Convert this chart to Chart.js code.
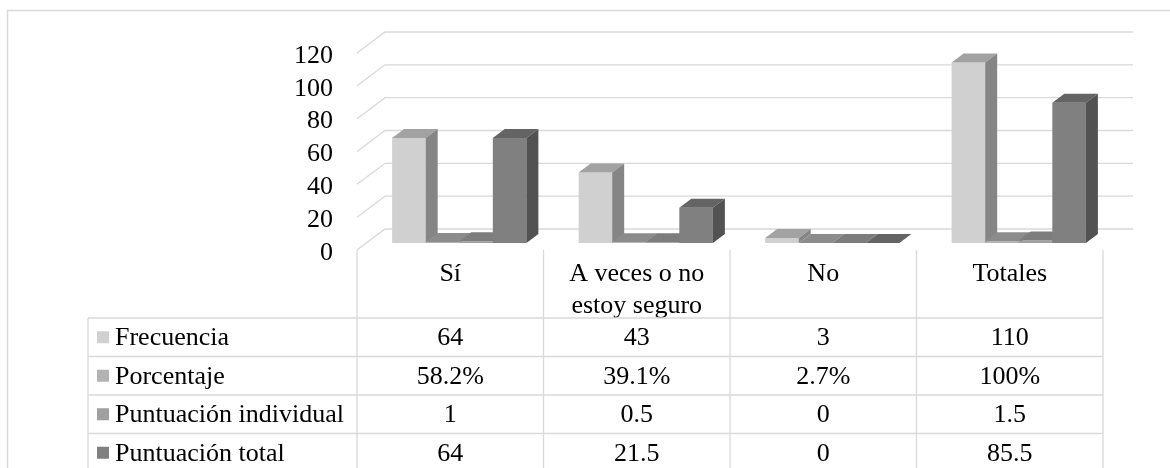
<!DOCTYPE html>
<html>
<head>
<meta charset="utf-8">
<script src="https://cdn.jsdelivr.net/npm/chart.js"></script>
<style>
  html, body { margin: 0; padding: 0; background: #fff; }
  canvas { display: block; }
</style>
</head>
<body>
<canvas id="chart" width="1170" height="468"></canvas>
<script>
// data
const categories = ['Sí', ['A veces o no', 'estoy seguro'], 'No', 'Totales'];
const seriesNames = ['Frecuencia', 'Porcentaje', 'Puntuación individual', 'Puntuación total'];
const frecuencia = [64, 43, 3, 110];
const porcentaje = [0.582, 0.391, 0.027, 1];
const puntIndividual = [1, 0.5, 0, 1.5];
const puntTotal = [64, 21.5, 0, 85.5];
const yTicks = { min: 0, max: 120, step: 20 };
const colors = ['#d0d0d0', '#b3b3b3', '#a0a0a0', '#808080'];

const FONT = '"Liberation Serif", "Times New Roman", serif';
const LINE = '#d9d9d9';
const DX = 12, DY = 9;            // depth of a column
const SHIFT_X = 9, SHIFT_Y = -7;  // columns sit behind the front edge
const WALL_X = 28, WALL_Y = 21;   // depth of floor / side wall
const WALL_RIGHT = 1133;
const TABLE_LEFT = 88, TABLE_TOP = 318, ROW_H = 38.5;

function shade(hex, k) {
  const n = parseInt(hex.slice(1), 16);
  const c = v => Math.round(v * k);
  return `rgb(${c(n >> 16 & 255)},${c(n >> 8 & 255)},${c(n & 255)})`;
}

function poly(ctx, pts) {
  ctx.beginPath();
  ctx.moveTo(pts[0][0], pts[0][1]);
  pts.slice(1).forEach(p => ctx.lineTo(p[0], p[1]));
  ctx.closePath();
  ctx.fill();
}

function cellText(d, v) {
  if (d === 1) return String(+(v * 100).toFixed(1)) + '%';
  return String(v);
}

// 3D walls, columns and the data table under the chart
const chart3d = {
  id: 'chart3d',
  beforeDraw(chart) {
    const ctx = chart.ctx;
    ctx.save();
    ctx.fillStyle = '#fff';
    ctx.fillRect(0, 0, chart.width, chart.height);
    ctx.strokeStyle = LINE;
    ctx.lineWidth = 1.5;
    ctx.strokeRect(7.5, 10.5, chart.width + 20, chart.height + 20);
    ctx.restore();
  },
  beforeDatasetsDraw(chart) {
    const { ctx, chartArea: area, scales: { y } } = chart;
    ctx.save();
    ctx.strokeStyle = LINE;
    ctx.lineWidth = 1.3;
    y.ticks.forEach(t => {
      const py = y.getPixelForValue(t.value);
      ctx.beginPath();
      ctx.moveTo(area.left, py);
      ctx.lineTo(area.left + WALL_X, py - WALL_Y);
      ctx.lineTo(WALL_RIGHT, py - WALL_Y);
      ctx.stroke();
    });

    ctx.translate(SHIFT_X, SHIFT_Y);
    for (let i = 0; i < categories.length; i++) {
      chart.data.datasets.forEach((ds, d) => {
        const bar = chart.getDatasetMeta(d).data[i];
        const { x: cx, y: top, base, width } = bar.getProps(['x', 'y', 'base', 'width'], true);
        const l = cx - width / 2, r = cx + width / 2;
        bar.draw(ctx);
        ctx.fillStyle = shade(ds.backgroundColor, 0.78);
        poly(ctx, [[l, top], [r, top], [r + DX, top - DY], [l + DX, top - DY]]);
        ctx.fillStyle = shade(ds.backgroundColor, 0.64);
        poly(ctx, [[r, top], [r + DX, top - DY], [r + DX, base - DY], [r, base]]);
      });
    }
    ctx.restore();
    return false;
  },
  afterDraw(chart) {
    const { ctx, chartArea: area, scales: { x } } = chart;
    const colW = x.width / categories.length;
    const rows = chart.data.datasets.length;
    const bottom = TABLE_TOP + rows * ROW_H;

    ctx.save();
    ctx.strokeStyle = LINE;
    ctx.lineWidth = 1.3;
    ctx.beginPath();
    for (let r = 0; r <= rows; r++) {
      const py = TABLE_TOP + r * ROW_H;
      ctx.moveTo(TABLE_LEFT, py);
      ctx.lineTo(x.right, py);
    }
    ctx.moveTo(TABLE_LEFT, TABLE_TOP);
    ctx.lineTo(TABLE_LEFT, bottom);
    for (let c = 0; c <= categories.length; c++) {
      const px = x.left + c * colW;
      ctx.moveTo(px, area.bottom);
      ctx.lineTo(px, bottom);
    }
    ctx.stroke();

    ctx.font = '26px ' + FONT;
    ctx.textBaseline = 'middle';
    chart.data.datasets.forEach((ds, d) => {
      const cy = TABLE_TOP + d * ROW_H + ROW_H / 2;
      ctx.fillStyle = ds.backgroundColor;
      ctx.fillRect(97, cy - 6, 12, 12);
      ctx.fillStyle = '#000';
      ctx.textAlign = 'left';
      ctx.fillText(ds.label, 115, cy + 1);
      ctx.textAlign = 'center';
      ds.data.forEach((v, i) => {
        ctx.fillText(cellText(d, v), x.getPixelForValue(i), cy + 1);
      });
    });
    ctx.restore();
  }
};

const series = [frecuencia, porcentaje, puntIndividual, puntTotal];

new Chart(document.getElementById('chart'), {
  type: 'bar',
  data: {
    labels: categories,
    datasets: series.map((values, d) => ({
      label: seriesNames[d],
      data: values,
      backgroundColor: colors[d],
      borderWidth: 0
    }))
  },
  options: {
    responsive: false,
    animation: false,
    devicePixelRatio: 1,
    categoryPercentage: 0.72,
    barPercentage: 1,
    layout: { padding: { top: 53, right: 67, left: 0, bottom: 0 } },
    plugins: {
      legend: { display: false },
      tooltip: { enabled: false }
    },
    scales: {
      x: {
        grid: { display: false, drawTicks: false },
        border: { display: false },
        ticks: {
          color: '#000',
          font: { family: FONT, size: 26 },
          padding: 9,
          maxRotation: 0,
          autoSkip: false
        },
        afterFit(s) { s.height = 218; }
      },
      y: {
        min: yTicks.min,
        max: yTicks.max,
        grid: { display: false, drawTicks: false },
        border: { display: false },
        ticks: {
          stepSize: yTicks.step,
          autoSkip: false,
          color: '#000',
          font: { family: FONT, size: 26, lineHeight: 1 },
          padding: 24,
          labelOffset: 3
        },
        afterFit(s) { s.width = 357; }
      }
    }
  },
  plugins: [chart3d]
});
</script>
</body>
</html>
